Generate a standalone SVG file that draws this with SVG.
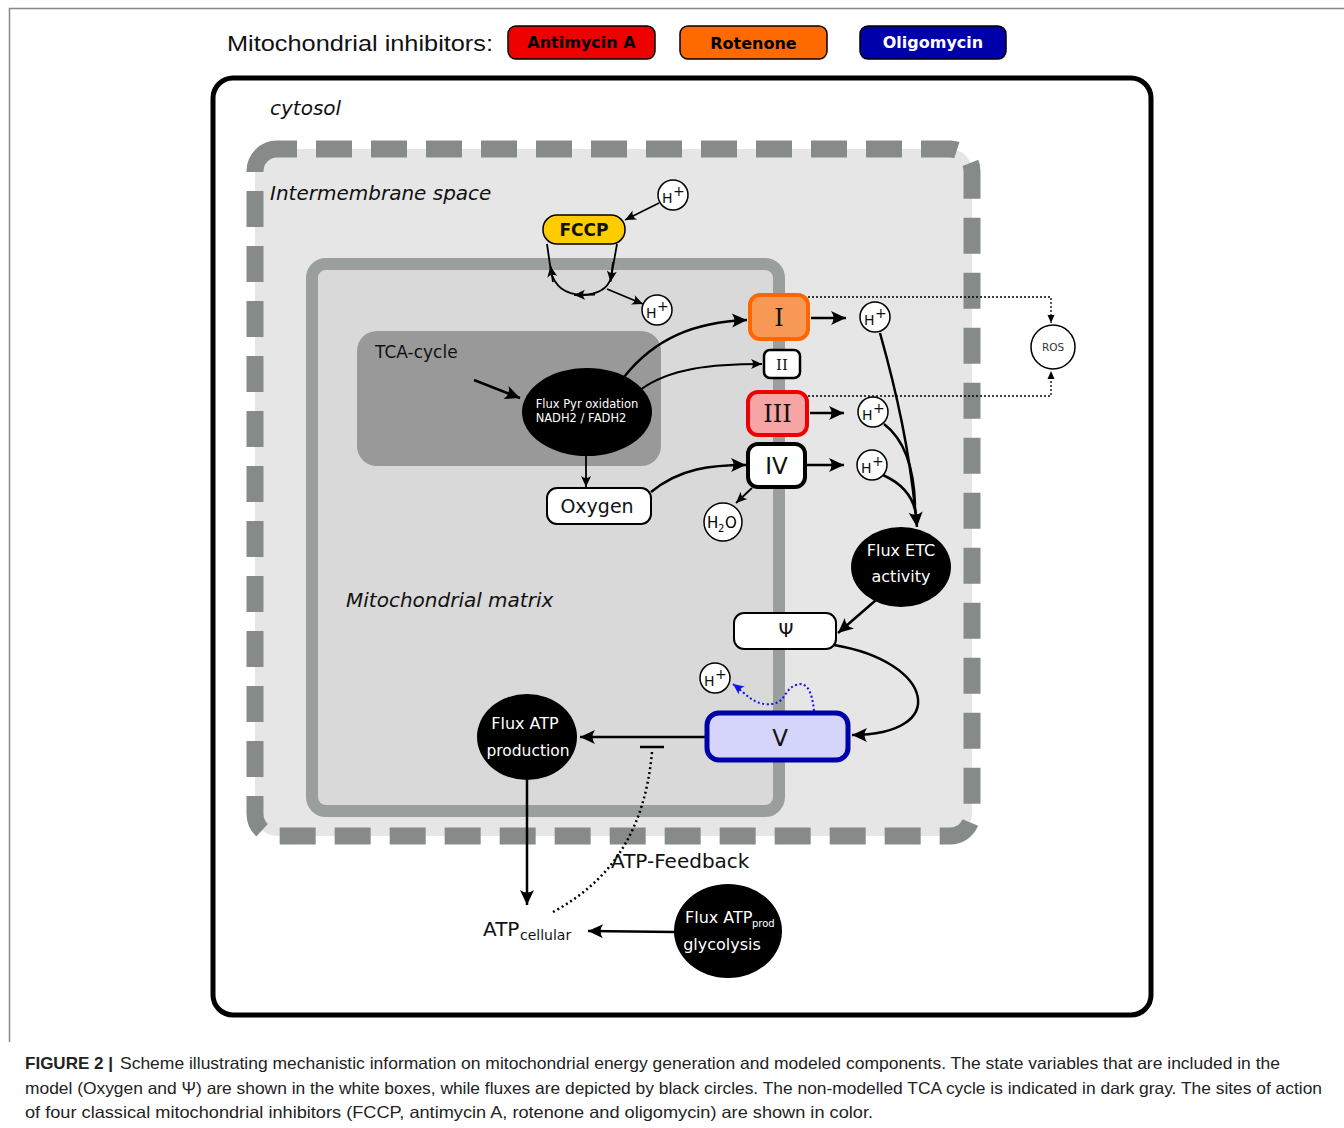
<svg xmlns="http://www.w3.org/2000/svg" width="1344" height="1128" viewBox="0 0 1344 1128">
<defs>
<marker id="ah" viewBox="-16 -8 18 16" refX="0" refY="0" markerWidth="18" markerHeight="16" markerUnits="userSpaceOnUse" orient="auto"><path d="M0,0 L-15,-7 Q-10,0 -15,7 Z" fill="#000"/></marker>
<marker id="ahs" viewBox="-12 -6 13 12" refX="0" refY="0" markerWidth="13" markerHeight="12" markerUnits="userSpaceOnUse" orient="auto"><path d="M0,0 L-11,-5 Q-7,0 -11,5 Z" fill="#000"/></marker>
<marker id="aht" viewBox="-9 -5 10 10" refX="0" refY="0" markerWidth="10" markerHeight="10" markerUnits="userSpaceOnUse" orient="auto"><path d="M0,0 L-8,-3.5 L-8,3.5 Z" fill="#000"/></marker>
<marker id="ahb" viewBox="-12 -6 13 12" refX="0" refY="0" markerWidth="13" markerHeight="12" markerUnits="userSpaceOnUse" orient="auto"><path d="M0,0 L-11,-5 Q-7,0 -11,5 Z" fill="#1010ee"/></marker>
</defs>
<style>
.sans{font-family:"DejaVu Sans","Liberation Sans",sans-serif}
.serif{font-family:"DejaVu Serif","Liberation Serif",serif}
.lib{font-family:"Liberation Sans",Arial,sans-serif}
.it{font-family:"DejaVu Sans",sans-serif;font-style:italic;font-size:20px;fill:#111}
.flux{fill:#000}
.wt{fill:#fff;font-family:"DejaVu Sans",sans-serif;text-anchor:middle}
.line{fill:none;stroke:#000;stroke-width:2.5}
.thin{fill:none;stroke:#000;stroke-width:1.8}
.hp{fill:#fff;stroke:#000;stroke-width:1.5}
.ht{font-family:"DejaVu Sans",sans-serif;font-size:14px;fill:#111}
.cap{font-family:"Liberation Sans",Arial,sans-serif;font-size:16.5px;fill:#222}
</style>
<rect x="0" y="0" width="1344" height="1128" fill="#fff"/>
<!-- figure frame -->
<path d="M1344 8.5 H9.5 V1042" fill="none" stroke="#888" stroke-width="1.5"/>

<!-- header -->
<g id="legend">
<text x="227" y="51" class="lib" font-size="22" fill="#111" textLength="266" lengthAdjust="spacingAndGlyphs">Mitochondrial inhibitors:</text>
<g id="antimycin"><rect x="508" y="26" width="147" height="33" rx="8" fill="#ee0000" stroke="#000" stroke-width="1.5"/><text x="581.5" y="48" class="sans" font-size="16" font-weight="bold" text-anchor="middle" fill="#000">Antimycin A</text></g>
<g id="rotenone"><rect x="680" y="26" width="147" height="33" rx="8" fill="#ff6a00" stroke="#000" stroke-width="1.5"/><text x="753.5" y="49" class="sans" font-size="16" font-weight="bold" text-anchor="middle" fill="#000">Rotenone</text></g>
<g id="oligomycin"><rect x="860" y="26" width="146" height="33" rx="8" fill="#0000aa" stroke="#000" stroke-width="1.5"/><text x="933" y="48" class="sans" font-size="16" font-weight="bold" text-anchor="middle" fill="#fff">Oligomycin</text></g>
</g>

<!-- cell -->
<g id="cytosol">
<rect x="213" y="78" width="938" height="937" rx="20" fill="#fff" stroke="#000" stroke-width="5"/>
<text x="270" y="115" class="it">cytosol</text>
</g>
<g id="intermembrane">
<rect x="255" y="149" width="717" height="687" rx="22" fill="#e6e6e6"/>
<rect x="255" y="149" width="717" height="687" rx="22" fill="none" stroke="#868b89" stroke-width="17" stroke-dasharray="36 19" stroke-dashoffset="16"/>
<text x="270" y="200" class="it">Intermembrane space</text>
</g>
<g id="matrix">
<rect x="312" y="264" width="467" height="547" rx="14" fill="#d9d9d9" stroke="#9a9f9d" stroke-width="12"/>
<text x="346" y="607" class="it" font-size="19">Mitochondrial matrix</text>
</g>
<g id="tca">
<rect x="357" y="331" width="304" height="135" rx="20" fill="#999"/>
<text x="375" y="358" class="sans" font-size="17" fill="#111">TCA-cycle</text>
</g>

<!-- connectors -->
<g id="connectors">
<path class="thin" d="M659 203 L625 220" marker-end="url(#ahs)"/>
<path class="thin" d="M617 244 L611 278 Q606 294 582 295 Q557 294 551 272 L547 244"/>
<path class="thin" d="M613 262 L610.5 282" marker-end="url(#ahs)"/>
<path class="thin" d="M595 294.6 L574 295" marker-end="url(#ahs)"/>
<path class="thin" d="M553 282 L550.5 266" marker-end="url(#ahs)"/>
<path class="thin" d="M607 289 L643 304" marker-end="url(#ahs)"/>
<path class="line" d="M474 380 L520 398" marker-end="url(#ah)"/>
<path class="line" d="M624 377 C655 338 695 322 747 320" marker-end="url(#ah)"/>
<path class="thin" d="M640 390 C670 368 712 364 762 364" marker-end="url(#ahs)"/>
<path class="thin" d="M586 456 L586 487" marker-end="url(#ahs)"/>
<path class="line" d="M651 492 C680 468 712 465 746 465" marker-end="url(#ah)"/>
<path class="line" d="M811 318 L846 318" marker-end="url(#ah)"/>
<path class="line" d="M810 413 L844 413" marker-end="url(#ah)"/>
<path class="line" d="M807 465 L844 465" marker-end="url(#ah)"/>
<path class="thin" d="M752 488 L736 503" marker-end="url(#ahs)"/>
<path class="line" d="M880 333 C896 390 910 450 917 527" marker-end="url(#ah)"/>
<path class="line" d="M884 424 C905 440 914 470 915 505"/>
<path class="line" d="M883 475 C905 485 914 500 916 515"/>
<path d="M808 297 H1051 V323" fill="none" stroke="#000" stroke-width="1.3" stroke-dasharray="2 2" marker-end="url(#aht)"/>
<path d="M808 396 H1051 V371" fill="none" stroke="#000" stroke-width="1.3" stroke-dasharray="2 2" marker-end="url(#aht)"/>
<path class="line" d="M876 600 L838 633" marker-end="url(#ah)"/>
<path class="line" d="M834 645 C935 662 950 735 852 735" marker-end="url(#ah)"/>
<path d="M814 711 C812 690 806 681 796 685 C782 690 787 706 765 704 C752 703 745 693 733 684" fill="none" stroke="#1010ee" stroke-width="2" stroke-dasharray="2 2.5" marker-end="url(#ahb)"/>
<path class="line" d="M705 737 L580 737" marker-end="url(#ah)"/>
<path d="M640 747 H664" stroke="#000" stroke-width="2.5"/>
<path d="M652 752 C645 830 612 880 553 912" fill="none" stroke="#000" stroke-width="2.5" stroke-dasharray="2 3"/>
<path class="line" d="M527 780 L527 905" marker-end="url(#ah)"/>
<path class="line" d="M675 932 L588 931" marker-end="url(#ah)"/>
</g>

<!-- nodes -->
<g id="fccp"><rect x="543" y="215" width="82" height="29" rx="14" fill="#ffcc00" stroke="#000" stroke-width="1.5"/><text x="584" y="236" class="sans" font-size="17" font-weight="bold" text-anchor="middle" fill="#111">FCCP</text></g>
<g id="hplus1"><circle cx="673" cy="195" r="15" class="hp"/><text x="662" y="203" class="ht">H</text><text x="673" y="196" class="ht">+</text></g>
<g id="hplus2"><circle cx="657" cy="310" r="15" class="hp"/><text x="646" y="318" class="ht">H</text><text x="657" y="311" class="ht">+</text></g>
<g id="pyr"><ellipse cx="587" cy="412" rx="65" ry="44" class="flux"/><text x="587" y="408" class="wt" font-size="11.5" fill="#eee">Flux Pyr oxidation</text><text x="581" y="422" class="wt" font-size="11.5">NADH2 / FADH2</text></g>
<g id="oxygen"><rect x="547" y="488" width="104" height="36" rx="10" fill="#fff" stroke="#000" stroke-width="2"/><text x="597" y="513" class="sans" font-size="19" text-anchor="middle" fill="#111">Oxygen</text></g>
<g id="complexI"><rect x="750" y="295" width="58" height="44" rx="10" fill="#f89a55" stroke="#ff6600" stroke-width="4"/><text x="779" y="326" class="serif" font-size="24" text-anchor="middle" fill="#111">I</text></g>
<g id="complexII"><rect x="764" y="350" width="36" height="28" rx="6" fill="#fff" stroke="#000" stroke-width="2.5"/><text x="782" y="370" class="serif" font-size="15" text-anchor="middle" fill="#111">II</text></g>
<g id="complexIII"><rect x="748" y="392" width="59" height="43" rx="10" fill="#f6a4a4" stroke="#ee0000" stroke-width="4"/><text x="777.5" y="422" class="serif" font-size="24" text-anchor="middle" fill="#111">III</text></g>
<g id="complexIV"><rect x="748" y="444" width="57" height="43" rx="10" fill="#fff" stroke="#000" stroke-width="4"/><text x="776.5" y="474" class="sans" font-size="23" text-anchor="middle" fill="#111">IV</text></g>
<g id="hplus3"><circle cx="875" cy="317" r="15" class="hp"/><text x="864" y="325" class="ht">H</text><text x="875" y="318" class="ht">+</text></g>
<g id="hplus4"><circle cx="873" cy="412" r="15" class="hp"/><text x="862" y="420" class="ht">H</text><text x="873" y="413" class="ht">+</text></g>
<g id="hplus5"><circle cx="872" cy="465" r="15" class="hp"/><text x="861" y="473" class="ht">H</text><text x="872" y="466" class="ht">+</text></g>
<g id="h2o"><circle cx="723" cy="522" r="19" class="hp"/><text x="707" y="528" class="sans" font-size="15">H</text><text x="718" y="532" class="sans" font-size="10">2</text><text x="725" y="528" class="sans" font-size="15">O</text></g>
<g id="ros"><circle cx="1053" cy="347" r="22" fill="#fff" stroke="#000" stroke-width="1.5"/><text x="1053" y="351" class="sans" font-size="10.5" text-anchor="middle" fill="#333">ROS</text></g>
<g id="etc"><ellipse cx="901" cy="567" rx="50" ry="40" class="flux"/><text x="901" y="556" class="wt" font-size="16">Flux ETC</text><text x="901" y="582" class="wt" font-size="16">activity</text></g>
<g id="psi"><rect x="734" y="613" width="102" height="36" rx="10" fill="#fff" stroke="#000" stroke-width="2"/><text x="786" y="637" class="sans" font-size="19" text-anchor="middle" fill="#111">Ψ</text></g>
<g id="hplus6"><circle cx="715" cy="678" r="15" class="hp"/><text x="704" y="686" class="ht">H</text><text x="715" y="679" class="ht">+</text></g>
<g id="complexV"><rect x="707" y="713" width="141" height="47" rx="12" fill="#d5d5fb" stroke="#0000aa" stroke-width="5"/><text x="780" y="746" class="sans" font-size="23" text-anchor="middle" fill="#111">V</text></g>
<g id="atpprod"><ellipse cx="527" cy="737" rx="50" ry="43" class="flux"/><text x="525" y="729" class="wt" font-size="16">Flux ATP</text><text x="528" y="756" class="wt" font-size="15.5">production</text></g>
<g id="atpcell"><text x="483" y="936" class="sans" font-size="20" fill="#111">ATP</text><text x="520" y="940" class="sans" font-size="14" fill="#111">cellular</text></g>
<g id="feedback"><text x="611" y="868" class="sans" font-size="20" fill="#111">ATP-Feedback</text></g>
<g id="glyc"><ellipse cx="728" cy="931" rx="54" ry="47" class="flux"/><text x="685" y="923" class="sans" font-size="16" fill="#fff">Flux ATP</text><text x="752" y="927" class="sans" font-size="10" fill="#fff">prod</text><text x="722" y="950" class="wt" font-size="16">glycolysis</text></g>

<!-- caption -->
<g id="caption">
<text x="25" y="1069" class="cap" font-weight="bold" fill="#111" textLength="88" lengthAdjust="spacingAndGlyphs">FIGURE 2 |</text>
<text x="120" y="1069" class="cap" textLength="1160" lengthAdjust="spacingAndGlyphs">Scheme illustrating mechanistic information on mitochondrial energy generation and modeled components. The state variables that are included in the</text>
<text x="25" y="1094" class="cap" textLength="1297" lengthAdjust="spacingAndGlyphs">model (Oxygen and Ψ) are shown in the white boxes, while fluxes are depicted by black circles. The non-modelled TCA cycle is indicated in dark gray. The sites of action</text>
<text x="25" y="1118" class="cap" textLength="848" lengthAdjust="spacingAndGlyphs">of four classical mitochondrial inhibitors (FCCP, antimycin A, rotenone and oligomycin) are shown in color.</text>
</g>
</svg>
